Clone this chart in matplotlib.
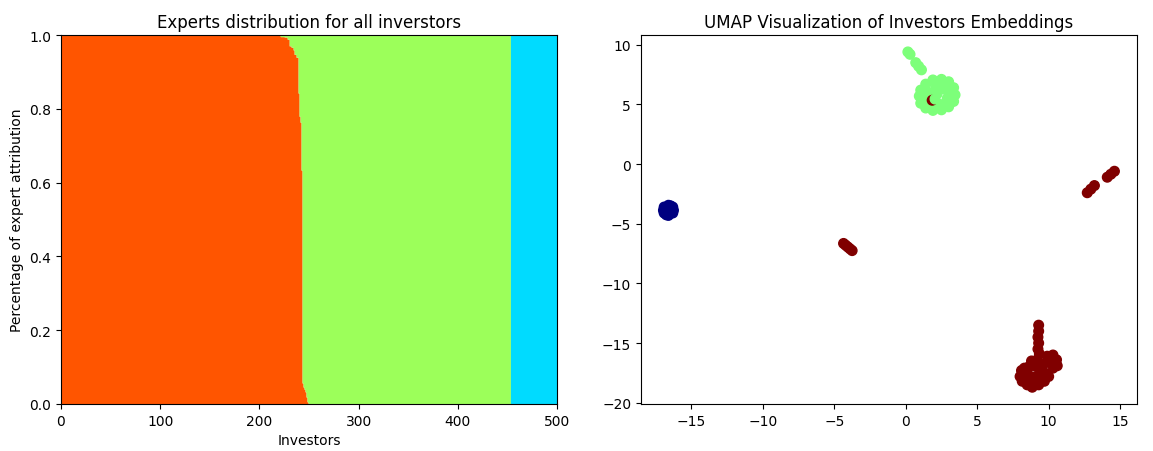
import numpy as np
import matplotlib
matplotlib.use("Agg")
import matplotlib.pyplot as plt

# ---------------- Left panel data ----------------
n_investors = 500
n_full_orange = 221          # investors fully attributed to the orange expert
orange_mixed = [0.996, 0.996, 0.996, 0.996, 0.995, 0.995, 0.995, 0.989, 0.989,
                0.971, 0.971, 0.967, 0.967, 0.960, 0.948, 0.948, 0.940, 0.940,
                0.843, 0.780, 0.764, 0.634,
                0.057, 0.046, 0.040, 0.033, 0.019, 0.006, 0.002]
n_cyan_start = 453           # first investor attributed to the cyan expert

expert_colors = ['#ff5500', '#9cff5a', '#00dbff']

# ---------------- Right panel data (UMAP) ----------------
blue_x = [-16.6, -16.95, -16.25, -16.6, -16.6, -16.9, -16.3, -16.9, -16.3, -16.75, -16.45, -16.6,
          -16.45, -16.75]
blue_y = [-3.87, -3.87, -3.87, -3.45, -4.3, -3.6, -3.6, -4.1, -4.1, -4.25, -3.5, -3.9,
          -3.75, -4.0]

green_x = [0.15, 0.3, 0.7, 0.9, 1.1,
           3.45, 3.35, 3.0, 2.5, 1.9, 1.4, 1.05, 0.95, 1.05, 1.4, 1.9, 2.5, 3.0, 3.35,
           2.7, 2.1, 1.6, 2.9, 2.4, 1.6, 2.2, 2.9, 1.4, 2.6, 1.9, 3.1, 1.25, 2.3]
green_y = [9.4, 9.2, 8.5, 8.2, 7.9,
           5.8, 6.4, 6.9, 7.1, 7.05, 6.7, 6.2, 5.7, 5.1, 4.7, 4.5, 4.55, 4.8, 5.25,
           6.3, 6.5, 6.0, 5.5, 5.0, 5.0, 5.9, 6.2, 5.6, 4.9, 4.9, 6.0, 5.5, 6.8]

red_inner_x = [1.85]
red_inner_y = [5.35]
green_cover_x = [2.05]
green_cover_y = [5.45]

red_x = [-4.35, -4.2, -4.05, -3.9, -3.75,
         12.7, 12.95, 13.2, 14.1, 14.35, 14.6,
         8.1, 8.0, 8.15, 8.5, 8.85, 9.3, 9.7, 10.0, 8.6, 9.0, 9.4, 8.6, 9.1, 9.5, 8.9,
         8.3, 8.4, 9.2, 9.7, 9.6, 8.8,
         9.9, 10.3, 10.55, 10.6, 10.3, 9.9, 10.2, 10.5,
         9.3, 9.3, 9.25, 9.3, 9.25, 9.35, 9.2]
red_y = [-6.65, -6.8, -6.95, -7.1, -7.25,
         -2.4, -2.1, -1.8, -1.1, -0.85, -0.6,
         -17.3, -17.8, -18.2, -18.5, -18.7, -18.5, -18.2, -17.8, -17.0, -16.9, -17.2, -17.7, -17.8, -17.7, -18.2,
         -17.1, -18.0, -18.1, -17.5, -16.8, -16.5,
         -16.1, -16.0, -16.4, -16.9, -17.1, -16.6, -16.5, -16.7,
         -13.5, -14.0, -14.5, -15.0, -15.5, -15.9, -16.4]

# cluster label per group (mapped through the jet colormap)
label_blue, label_green, label_red = 0, 1, 2

# ---------------- Build the stacked fractions ----------------
orange = np.zeros(n_investors)
orange[:n_full_orange] = 1.0
orange[n_full_orange:n_full_orange + len(orange_mixed)] = orange_mixed
cyan = np.zeros(n_investors)
cyan[n_cyan_start:] = 1.0
green = 1.0 - orange - cyan

edges = np.arange(n_investors + 1)
def ext(a):
    return np.append(a, a[-1])

fig, (ax1, ax2) = plt.subplots(1, 2, figsize=(11.53, 4.52), dpi=100)
fig.subplots_adjust(left=0.0529, right=0.9861, top=0.920, bottom=0.104, wspace=0.169)

b0 = np.zeros(n_investors)
for frac, col in zip([orange, green, cyan], expert_colors):
    ax1.fill_between(edges, ext(b0), ext(b0 + frac), step='post', color=col, linewidth=0)
    b0 = b0 + frac
ax1.set_xlim(0, 500)
ax1.set_ylim(0, 1)
ax1.set_title("Experts distribution for all inverstors")
ax1.set_xlabel("Investors")
ax1.set_ylabel("Percentage of expert attribution")

xs = blue_x + green_x + red_inner_x + green_cover_x + red_x
ys = blue_y + green_y + red_inner_y + green_cover_y + red_y
labels = ([label_blue] * len(blue_x) + [label_green] * len(green_x) +
          [label_red] * len(red_inner_x) + [label_green] * len(green_cover_x) +
          [label_red] * len(red_x))
ax2.scatter(xs, ys, c=labels, cmap='jet', s=48, vmin=0, vmax=2)
ax2.set_title("UMAP Visualization of Investors Embeddings")

fig.savefig("out.png", dpi=100)
